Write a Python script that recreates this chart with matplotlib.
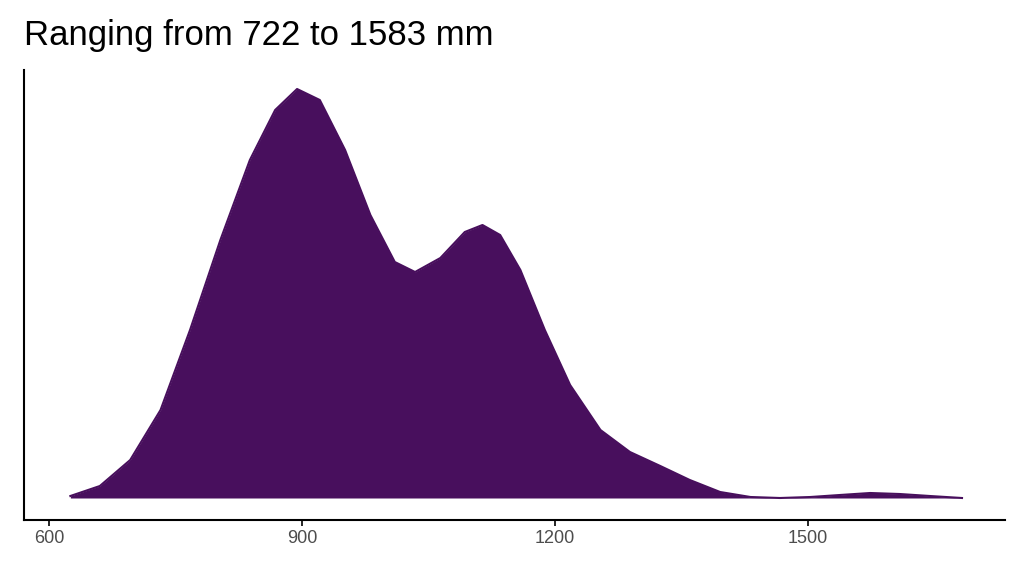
import matplotlib
matplotlib.use("Agg")
import matplotlib.pyplot as plt

plt.rcParams['font.family'] = ['Liberation Sans', 'DejaVu Sans']

rainfall_mm = [625, 660, 696, 732, 767, 803, 838, 868, 894, 921, 951, 981, 1010, 1034,
               1064, 1093, 1114, 1135, 1159, 1188, 1218, 1254, 1289, 1325, 1360, 1396,
               1432, 1467, 1503, 1538, 1574, 1609, 1645, 1683]
density = [2, 12, 38, 88, 168, 258, 338, 388, 409, 398, 348, 283, 236, 226,
           240, 266, 273, 263, 228, 168, 113, 68, 46, 32, 18, 6,
           1, 0, 1, 3, 5, 4, 2, 0]
ticks = [600, 900, 1200, 1500]
title = "Ranging from 722 to 1583 mm"

fig = plt.figure(figsize=(10.24, 5.76), dpi=100)
ax = fig.add_axes([24/1024, 56/576, 981/1024, 450/576])
ax.fill_between(rainfall_mm, density, 0, color='#480F5D', lw=0)
ax.plot(rainfall_mm, density, color='#480F5D', lw=1.5)
ax.set_xlim(570, 1734)
ax.set_ylim(-22, 428)
ax.set_xticks(ticks)
ax.set_xticklabels([str(t) for t in ticks])
ax.set_yticks([])
ax.tick_params(axis='x', colors='black', labelcolor='#4d4d4d', labelsize=13, length=4, width=1.2)
for s in ['top', 'right']:
    ax.spines[s].set_visible(False)
for s in ['left', 'bottom']:
    ax.spines[s].set_linewidth(1.5)
fig.text(24/1024, 1 - 35/576, title, fontsize=25, va='center', ha='left')
fig.savefig('out.png', dpi=100)
